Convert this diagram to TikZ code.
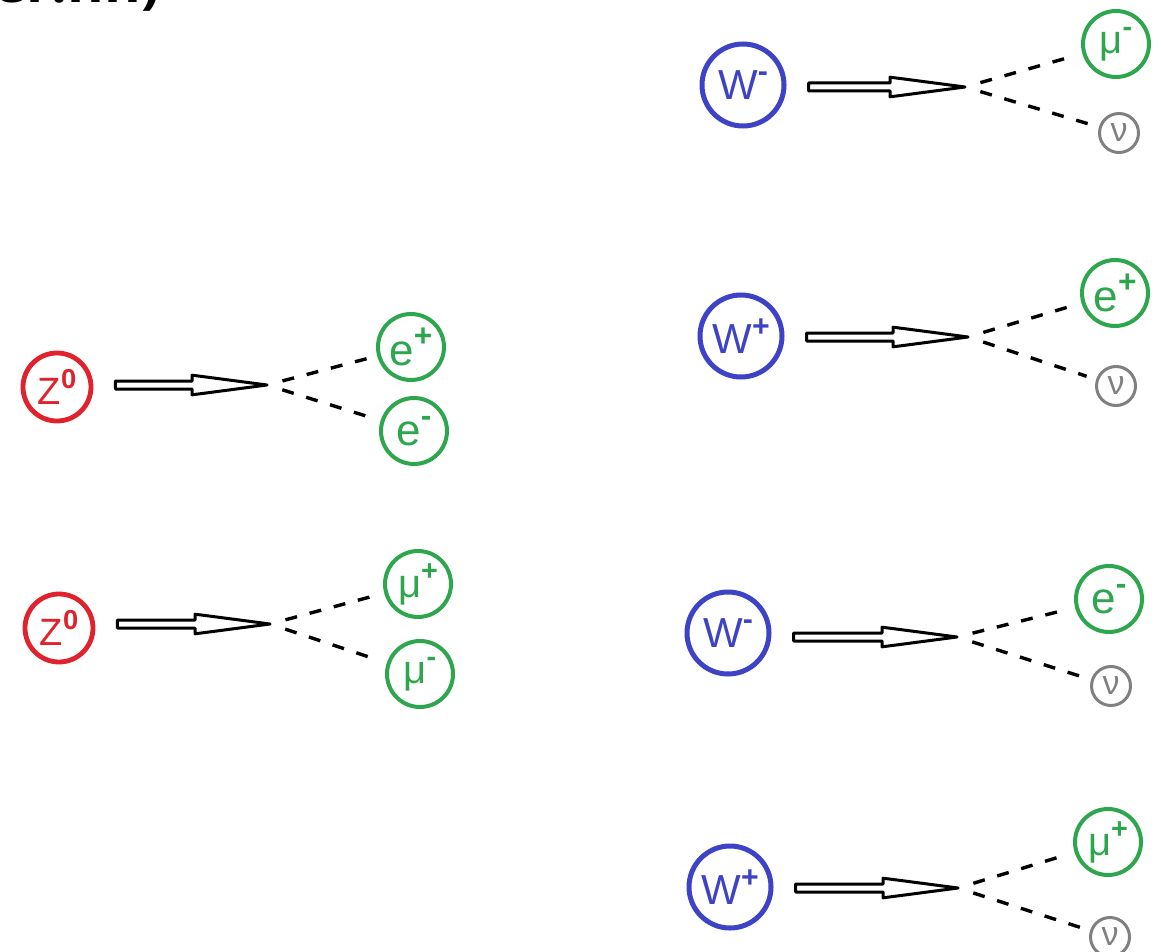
\documentclass[tikz,border=0pt]{standalone}
\usepackage{fontspec}
\setmainfont{Liberation Sans}
\newfontfamily\headfont{Open Sans}
\usepackage{graphicx}
\usepackage{tikz}
\usetikzlibrary{calc}

\definecolor{zred}{RGB}{224,34,44}
\definecolor{wblue}{RGB}{62,66,196}
\definecolor{lgreen}{RGB}{46,166,78}
\definecolor{ngray}{RGB}{128,128,128}

\newcommand\chg[1]{\raisebox{0.42em}{\scalebox{0.72}{\bfseries #1}}}

\tikzset{
  zboson/.style={circle, draw=zred, text=zred, line width=2.4pt, minimum size=34pt, inner sep=0pt, font=\fontsize{19}{19}\selectfont},
  wboson/.style={circle, draw=wblue, text=wblue, line width=2.5pt, minimum size=41pt, inner sep=0pt, font=\fontsize{21}{21}\selectfont},
  lepton/.style={circle, draw=lgreen, text=lgreen, line width=2pt, minimum size=33pt, inner sep=0pt},
  efont/.style={font=\fontsize{22}{22}\selectfont},
  mufont/.style={font=\fontsize{20}{20}\selectfont},
  neutrino/.style={circle, draw=ngray, text=ngray, line width=1.5pt, minimum size=19.5pt, inner sep=0pt, font=\fontsize{17}{17}\selectfont},
  decay/.style={draw=black, fill=white, line width=1.5pt, line join=round,
    to path={let \p1=($(\tikztostart.east)+(22,0)$), \p2=(\tikztotarget) in
      (\x1,\y2+2pt) -- (\x2-37.5pt,\y2+2pt) -- (\x2-37.5pt,\y2+4.9pt) -- (\x2-32pt,\y2+4.2pt)
      -- (\x2,\y2) -- (\x2-32pt,\y2-4.2pt) -- (\x2-37.5pt,\y2-4.9pt) -- (\x2-37.5pt,\y2-2pt)
      -- (\x1,\y2-2pt) -- cycle}},
  prong/.style={draw=black, line width=1.7pt, dash pattern=on 6pt off 6.5pt, shorten <=8pt, shorten >=5pt}
}

\begin{document}
\begin{tikzpicture}[x=0.5pt, y=-0.5pt]
  \useasboundingbox (0,0) rectangle (1161,952);

  % cut-off heading line
  \begin{scope}
    \clip (0,0) rectangle (300,20);
    \node[anchor=base west, inner sep=0pt, font=\headfont\bfseries\fontsize{28}{28}\selectfont] (head) at (-7,3) {er.nn)};
  \end{scope}

  % Z decays
  \node[zboson] (z1) at (57,387) {Z\chg{0}};
  \coordinate (z1t) at (267,385);
  \node[lepton, efont] (ep1) at (411,347) {e\chg{+}};
  \node[lepton, efont] (em1) at (414,431) {e\chg{-}};

  \node[zboson] (z2) at (59,628) {Z\chg{0}};
  \coordinate (z2t) at (270,624);
  \node[lepton, mufont] (mp2) at (418,584) {μ\chg{+}};
  \node[lepton, mufont] (mm2) at (420,674) {μ\chg{-}};

  % W decays
  \node[wboson] (w1) at (743,85) {W\chg{-}};
  \coordinate (w1t) at (965,87);
  \node[lepton, mufont] (mm3) at (1116,44) {μ\chg{-}};
  \node[neutrino] (n3) at (1119,133) {ν};

  \node[wboson] (w2) at (741,336) {W\chg{+}};
  \coordinate (w2t) at (968,337);
  \node[lepton, efont] (ep4) at (1115,293) {e\chg{+}};
  \node[neutrino] (n4) at (1116,386) {ν};

  \node[wboson] (w3) at (728,633) {W\chg{-}};
  \coordinate (w3t) at (957,637);
  \node[lepton, efont] (em5) at (1109,599) {e\chg{-}};
  \node[neutrino] (n5) at (1111,686) {ν};

  \node[wboson] (w4) at (730,887) {W\chg{+}};
  \coordinate (w4t) at (958,888);
  \node[lepton, mufont] (mp6) at (1108,842) {μ\chg{+}};
  \node[neutrino] (n6) at (1110,937) {ν};

  \draw[decay] (z1) to (z1t);
  \draw[decay] (z2) to (z2t);
  \draw[decay] (w1) to (w1t);
  \draw[decay] (w2) to (w2t);
  \draw[decay] (w3) to (w3t);
  \draw[decay] (w4) to (w4t);

  \path[prong]
    (z1t) edge (ep1) edge (em1)
    (z2t) edge (mp2) edge (mm2)
    (w1t) edge (mm3) edge (n3)
    (w2t) edge (ep4) edge (n4)
    (w3t) edge (em5) edge (n5)
    (w4t) edge (mp6) edge (n6);
\end{tikzpicture}
\end{document}
